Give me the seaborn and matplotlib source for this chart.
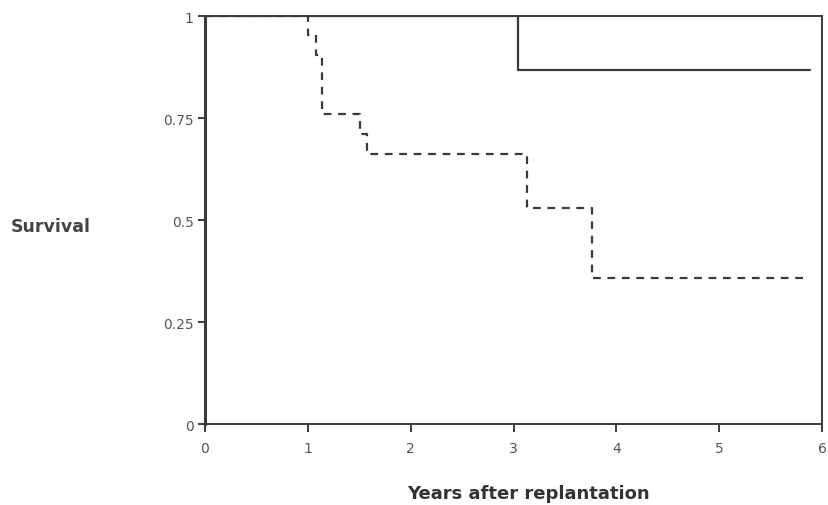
import matplotlib
matplotlib.use("Agg")
import matplotlib.pyplot as plt
import seaborn as sns
import pandas as pd

# Kaplan-Meier style survival steps (years after replantation)
solid_years = [0.0, 3.04, 5.88]
solid_surv = [1.0, 0.868, 0.868]

dashed_years = [0.0, 1.0, 1.08, 1.14, 1.51, 1.58, 3.13, 3.76, 5.84]
dashed_surv = [1.0, 0.955, 0.905, 0.76, 0.71, 0.662, 0.53, 0.358, 0.358]

x_ticks = [0, 1, 2, 3, 4, 5, 6]
x_tick_labels = ["0", "1", "2", "3", "4", "5", "6"]
y_ticks = [0, 0.25, 0.5, 0.75, 1]
y_tick_labels = ["0", "0.25", "0.5", "0.75", "1"]

sns.set_theme(style="white")
plt.rcParams["font.family"] = ["DejaVu Sans"]

fig = plt.figure(figsize=(8.29, 5.06), dpi=100)
ax = fig.add_axes([0.247, 0.160, 0.745, 0.806])

solid_df = pd.DataFrame({"years": solid_years, "survival": solid_surv})
dashed_df = pd.DataFrame({"years": dashed_years, "survival": dashed_surv})

sns.lineplot(data=solid_df, x="years", y="survival", ax=ax,
             drawstyle="steps-post", color="#3a3a3a", linewidth=1.6,
             estimator=None, sort=False)
sns.lineplot(data=dashed_df, x="years", y="survival", ax=ax,
             drawstyle="steps-post", color="#3a3a3a", linewidth=1.6,
             estimator=None, sort=False)
ax.lines[-1].set_linestyle((0, (3.5, 3.0)))

ax.set_xlim(0, 6)
ax.set_ylim(0, 1)
ax.set_xticks(x_ticks)
ax.set_xticklabels(x_tick_labels)
ax.set_yticks(y_ticks)
ax.set_yticklabels(y_tick_labels)

for side, spine in ax.spines.items():
    spine.set_visible(True)
    spine.set_color("#3a3a3a")
    spine.set_linewidth(1.4)
ax.spines["left"].set_linewidth(2.2)

ax.tick_params(axis="x", direction="out", length=6, width=1.4, color="#3a3a3a",
               labelsize=10, labelcolor="#555555", pad=6, bottom=True)
ax.tick_params(axis="y", direction="out", length=5, width=1.4, color="#3a3a3a",
               labelsize=10, labelcolor="#555555", pad=3, left=True)

ax.set_xlabel("")
ax.set_ylabel("")
ax.grid(False)

fig.text(0.013, 0.551, "Survival", fontsize=12.5, fontweight="bold",
         color="#444444", va="center", ha="left")
fig.text(0.637, 0.024, "Years after replantation", fontsize=13,
         fontweight="bold", color="#333333", va="center", ha="center")

fig.savefig("out.png", dpi=100)
